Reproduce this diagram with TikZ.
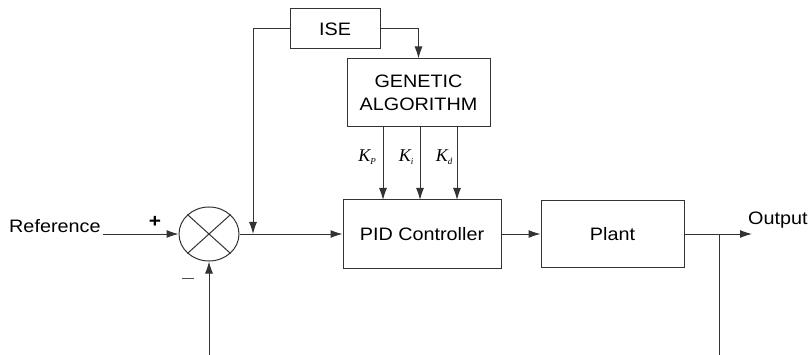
\documentclass[tikz,border=0pt]{standalone}
\usepackage{fontspec}
\setmainfont{Liberation Sans}[FakeStretch=1.1]
\newfontfamily\tnr{Liberation Serif}
\usetikzlibrary{arrows.meta,shapes.geometric}
\begin{document}
\begin{tikzpicture}[x=1pt,y=-1pt,
  line/.style={draw=black!80,line width=1pt},
  arr/.style={line,-{Latex[length=12pt,width=8pt]}},
  blk/.style={draw=black!80,line width=1pt,minimum width=#1,inner sep=0pt,align=center,font=\fontsize{18}{23}\selectfont},
  lbl/.style={inner sep=0pt,font=\fontsize{18}{22}\selectfont},
  kl/.style={inner sep=0pt,font=\tnr\fontsize{18}{20}\selectfont\itshape}]
\useasboundingbox (0,0) rectangle (810,355);
\node[blk=90pt,minimum height=40pt] (ise) at (335,29) {ISE};
\node[blk=143pt,minimum height=68pt] (ga) at (418.5,93) {GENETIC\\ALGORITHM};
\node[blk=158pt,minimum height=68pt] (pid) at (422,234) {PID Controller};
\node[blk=143pt,minimum height=67pt] (plant) at (612.5,234) {Plant};
\node[draw=black!80,line width=1pt,ellipse,minimum width=60pt,minimum height=54pt,inner sep=0pt] (c) at (209,234) {};
\draw[line] (c.north west) -- (c.south east) (c.north east) -- (c.south west);
\node[lbl,anchor=base west] (reft) at (9,233) {Reference};
\node[lbl,anchor=base west] (outt) at (748,225) {Output};
\node[lbl,font=\fontsize{19}{22}\selectfont\bfseries] (plus) at (155,222) {+};
\node[lbl] (minus) at (188,278) {\color{black!70}\rule{12pt}{1pt}};
\node[kl] (kp) at (367,157) {K\raisebox{-0.35ex}{\fontsize{9}{10}\selectfont P}};
\node[kl] (ki) at (406,157) {K\raisebox{-0.35ex}{\fontsize{9}{10}\selectfont i}};
\node[kl] (kd) at (444,157) {K\raisebox{-0.35ex}{\fontsize{9}{10}\selectfont d}};
\coordinate (rin) at (103,234);
\coordinate (fb1) at (209,355);
\coordinate (j1) at (253,234);
\coordinate (isel) at (253,29);
\coordinate (out) at (752,234);
\coordinate (br) at (719,234);
\coordinate (fb2) at (719,355);
\coordinate (g1) at (383,127);
\coordinate (g2) at (420,127);
\coordinate (g3) at (457,127);
\coordinate (p1) at (383,200);
\coordinate (p2) at (420,200);
\coordinate (p3) at (457,200);
\draw[arr] (rin) -- (c.west);
\draw[arr] (fb1) -- (c.south);
\draw[arr] (c.east) -- (pid.west);
\draw[arr] (ise.west) -- (isel) -- (j1);
\draw[arr] (ise.east) -| (ga.north);
\draw[arr] (g1) -- (p1);
\draw[arr] (g2) -- (p2);
\draw[arr] (g3) -- (p3);
\draw[arr] (pid.east) -- (plant.west);
\draw[arr] (plant.east) -- (out);
\draw[line] (br) -- (fb2);
\end{tikzpicture}
\end{document}
